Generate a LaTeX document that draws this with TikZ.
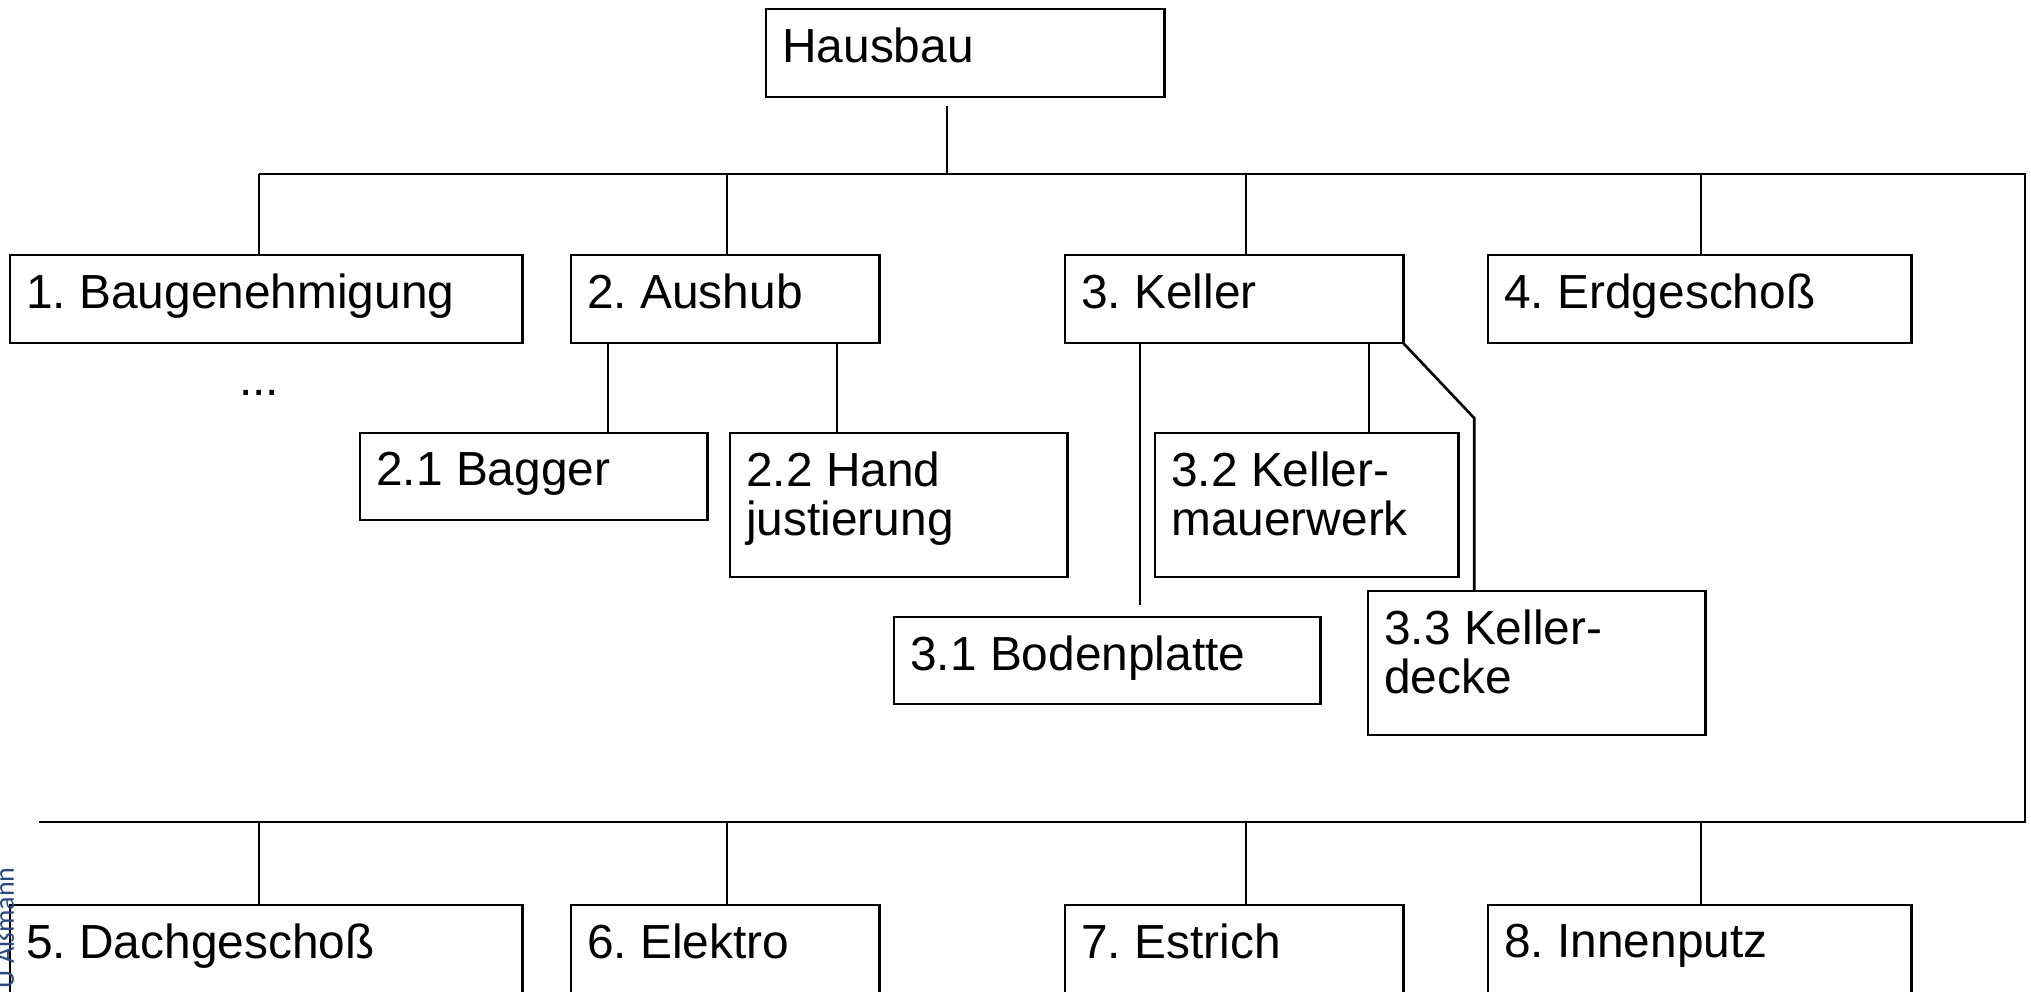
\documentclass[tikz,border=0pt]{standalone}
\usepackage{fontspec}
\setmainfont{Liberation Sans}
\newfontfamily\autorfont{Carlito}
\definecolor{autorblau}{HTML}{2B4A80}
\frenchspacing

\tikzset{
	wbs/.style={draw, anchor=north west, inner sep=0pt, outer sep=0pt},
	wbstext/.style={anchor=north west, inner xsep=0.15cm, inner ysep=0.18cm, align=left,
		font=\fontsize{13.6}{13.9}\selectfont},
}

\begin{document}
\begin{tikzpicture}[x=0.01cm, y=-0.01cm, line width=0.75pt]
			\useasboundingbox (0,0) rectangle (2031,991);
			
			% Wurzel
			\node[wbs, minimum width=3.98cm, minimum height=0.88cm] (hausbau) at (766,9) {};
			\node[wbstext] (hausbauT) at (hausbau.north west) {Hausbau};
			
			% erste Ebene
			\node[wbs, minimum width=5.12cm, minimum height=0.88cm] (baugen) at (10,255) {};
			\node[wbstext] (baugenT) at (baugen.north west) {1. Baugenehmigung};
			\node[wbs, minimum width=3.08cm, minimum height=0.88cm] (aushub) at (571,255) {};
			\node[wbstext] (aushubT) at (aushub.north west) {2. Aushub};
			\node[wbs, minimum width=3.38cm, minimum height=0.88cm] (keller) at (1065,255) {};
			\node[wbstext] (kellerT) at (keller.north west) {3. Keller};
			\node[wbs, minimum width=4.23cm, minimum height=0.88cm] (erdg) at (1488,255) {};
			\node[wbstext] (erdgT) at (erdg.north west) {4. Erdgescho\ss};
			
			\node[anchor=base, font=\fontsize{13.6}{13.9}\selectfont] (mehr) at (259,395) {...};
			
			% Aushub
			\node[wbs, minimum width=3.47cm, minimum height=0.87cm] (bagger) at (360,433) {};
			\node[wbstext] (baggerT) at (bagger.north west) {2.1 Bagger};
			\node[wbs, minimum width=3.37cm, minimum height=1.44cm] (handj) at (730,433) {};
			\node[wbstext] (handjT) at (handj.north west) {2.2 Hand\\justierung};
			
			% Keller
			\node[wbs, minimum width=4.26cm, minimum height=0.87cm] (bodenpl) at (894,617) {};
			\node[wbstext] (bodenplT) at (bodenpl.north west) {3.1 Bodenplatte};
			\node[wbs, minimum width=3.03cm, minimum height=1.44cm] (kmauer) at (1155,433) {};
			\node[wbstext] (kmauerT) at (kmauer.north west) {3.2 Keller-\\mauerwerk};
			\node[wbs, minimum width=3.37cm, minimum height=1.44cm] (kdecke) at (1368,591) {};
			\node[wbstext] (kdeckeT) at (kdecke.north west) {3.3 Keller-\\decke};
			
			% zweite Reihe
			\node[wbs, minimum width=5.12cm, minimum height=0.88cm] (dach) at (10,905) {};
			\node[wbstext] (dachT) at (dach.north west) {5. Dachgescho\ss};
			\node[wbs, minimum width=3.08cm, minimum height=0.88cm] (elektro) at (571,905) {};
			\node[wbstext] (elektroT) at (elektro.north west) {6. Elektro};
			\node[wbs, minimum width=3.38cm, minimum height=0.88cm] (estrich) at (1065,905) {};
			\node[wbstext] (estrichT) at (estrich.north west) {7. Estrich};
			\node[wbs, minimum width=4.23cm, minimum height=0.88cm] (innen) at (1488,905) {};
			\node[wbstext] (innenT) at (innen.north west) {8. Innenputz};
			
			% Linien
			\coordinate (b0) at (947,174);
			\draw (b0 |- hausbau.south) ++(0,9) -- (b0);
			\draw (259,174) -- (2025,174) -- (2025,822) -- (39,822);
			\foreach \n/\o in {baugen/249, aushub/156, keller/181, erdg/213}
			\draw (\n.north west) ++(\o,0) -- ++(0,-81);
			\foreach \n/\o in {dach/249, elektro/156, estrich/181, innen/213}
			\draw (\n.north west) ++(\o,0) -- ++(0,-83);
			
			\draw (aushub.south west) ++(37,0) coordinate (a1) -- (a1 |- bagger.north);
			\draw (aushub.south west) ++(266,0) coordinate (a2) -- (a2 |- handj.north);
			
			\draw (keller.south west) ++(75,0) -- ++(0,262);
			\draw (keller.south west) ++(304,0) coordinate (k2) -- (k2 |- kmauer.north);
			\draw (keller.south east) -- ++(71,75) coordinate (k3) -- (k3 |- kdecke.north);
			
			\node[rotate=90, anchor=base east, inner sep=0pt, text=autorblau, font=\autorfont\fontsize{8}{9}\selectfont] (autor) at (14,866) {U Aßmann};
		\end{tikzpicture}
\end{document}
